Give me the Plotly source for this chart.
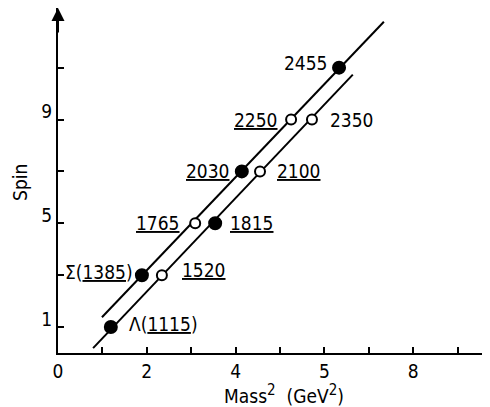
import plotly.graph_objects as go

# Data (x = Mass^2 in GeV^2, y = 2J "Spin")
upper_names = ["Σ(<u>1385</u>)", "<u>1765</u>", "<u>2030</u>", "<u>2250</u>", "2455"]
upper_x = [1.89, 3.09, 4.14, 5.25, 6.33]
upper_y = [3, 5, 7, 9, 11]
upper_filled = [True, False, True, False, True]

lower_names = ["Λ(<u>1115</u>)", "<u>1520</u>", "<u>1815</u>", "<u>2100</u>", "2350"]
lower_x = [1.19, 2.34, 3.54, 4.55, 5.72]
lower_y = [1, 3, 5, 7, 9]
lower_filled = [True, False, True, False, False]

upper_line_x = [0.99, 7.34]
upper_line_y = [1.38, 12.77]
lower_line_x = [0.79, 6.64]
lower_line_y = [0.19, 10.73]

x_tickvals = [0, 2, 4, 6, 8]
x_ticktext = ["0", "2", "4", "5", "8"]
y_tickvals = [1, 5, 9]
y_ticktext = ["1", "5", "9"]

FONT = "DejaVu Sans Condensed, DejaVu Sans, sans-serif"
BLACK = "#000000"

fig = go.Figure()
for lx, ly in [(upper_line_x, upper_line_y), (lower_line_x, lower_line_y)]:
    fig.add_trace(go.Scatter(x=lx, y=ly, mode="lines",
                             line=dict(color=BLACK, width=2), showlegend=False,
                             hoverinfo="skip"))

def add_points(xs, ys, filled):
    fig.add_trace(go.Scatter(
        x=xs, y=ys, mode="markers", showlegend=False,
        marker=dict(size=[12 if f else 10 for f in filled],
                    color=[BLACK if f else "white" for f in filled],
                    opacity=1,
                    line=dict(color=BLACK, width=2))))

add_points(upper_x, upper_y, upper_filled)
add_points(lower_x, lower_y, lower_filled)

# label placement (styling): anchor side, x shift, y shift in pixels
upper_place = [("right", -7, 3), ("right", -13, 0), ("right", -10, 0), ("right", -11, 0), ("right", -9, 5)]
lower_place = [("left", 16, 3), ("left", 18, 5), ("left", 13, 0), ("left", 15, 0), ("left", 16, 0)]

for names, xs, ys, places in [(upper_names, upper_x, upper_y, upper_place),
                              (lower_names, lower_x, lower_y, lower_place)]:
    for n, x, y, (anc, dx, dy) in zip(names, xs, ys, places):
        fig.add_annotation(x=x, y=y, text=n, showarrow=False, xanchor=anc,
                           yanchor="middle", xshift=dx, yshift=dy,
                           font=dict(family=FONT, size=19, color=BLACK))

# arrow head at top of y axis
fig.add_annotation(x=0, y=13.3, ax=0, ay=12.3, xref="x", yref="y",
                   axref="x", ayref="y", text="", showarrow=True,
                   arrowhead=2, arrowsize=1.3, arrowwidth=2, arrowcolor=BLACK)

# axis titles
fig.add_annotation(xref="paper", yref="paper", x=(20 - 58) / 432, y=0.493,
                   xanchor="center", yanchor="middle",
                   text="Spin", textangle=-90, showarrow=False,
                   font=dict(family=FONT, size=19, color=BLACK))
fig.add_annotation(xref="paper", yref="paper", x=(284 - 58) / 432, y=-0.119,
                   xanchor="center", yanchor="middle",
                   text=("Mass<sup><span style='font-size:15px'>2</span></sup>"
                         "&nbsp; (GeV<sup><span style='font-size:15px'>2</span></sup>)"),
                   showarrow=False,
                   font=dict(family=FONT, size=19, color=BLACK))

fig.update_xaxes(range=[0, 9.73], tickvals=x_tickvals, ticktext=x_ticktext,
                 ticks="inside", ticklen=6, tickwidth=2, tickcolor=BLACK,
                 minor=dict(tickvals=[1, 3, 5, 7, 9], ticks="inside", ticklen=6,
                            tickwidth=2, tickcolor=BLACK, showgrid=False),
                 showline=True, linecolor=BLACK, linewidth=2, showgrid=False,
                 zeroline=False, tickfont=dict(family=FONT, size=19, color=BLACK))
fig.update_yaxes(range=[0, 13.3], tickvals=y_tickvals, ticktext=y_ticktext,
                 ticks="inside", ticklen=6, tickwidth=2, tickcolor=BLACK,
                 minor=dict(tickvals=[3, 7, 11], ticks="inside", ticklen=6,
                            tickwidth=2, tickcolor=BLACK, showgrid=False),
                 showline=True, linecolor=BLACK, linewidth=2, showgrid=False,
                 zeroline=False, ticklabelshift=-8,
                 tickfont=dict(family=FONT, size=19, color=BLACK))

# the page body adds an 8px offset, so the figure is sized to land the axes
# where the reference has them
fig.update_layout(width=482, height=399, margin=dict(l=50, r=0, t=0, b=54),
                  plot_bgcolor="white", paper_bgcolor="white")

fig.write_html("out.html")
